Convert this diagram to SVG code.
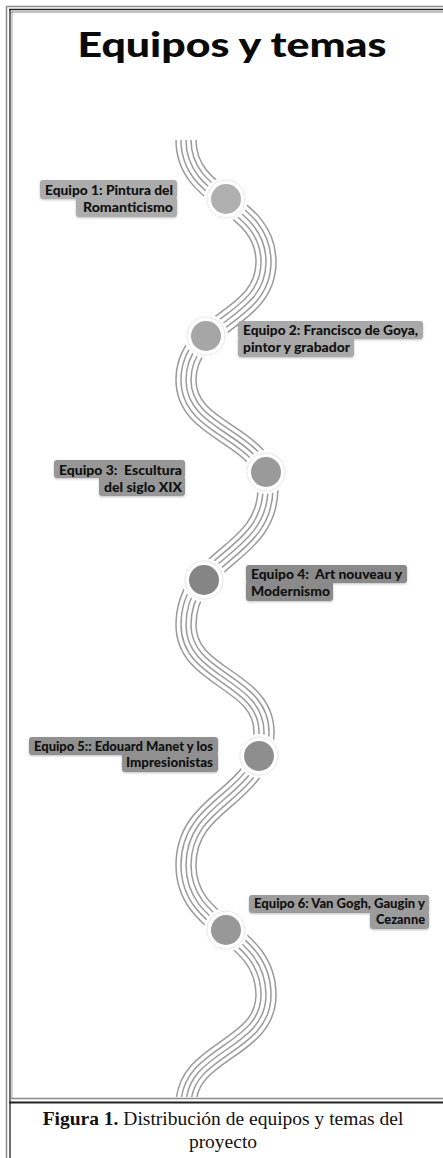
<svg xmlns="http://www.w3.org/2000/svg" xmlns:xlink="http://www.w3.org/1999/xlink" width="443" height="1158" viewBox="0 0 443 1158">
<style>
.lbl{font-family:Lato,"Open Sans",sans-serif;font-weight:900;font-size:12.5px;fill:#111;white-space:pre}
.road{fill:none;stroke-linecap:butt}
.halo{fill:#fff}
.ring{fill:none;stroke:#d6d6d6;stroke-width:1;stroke-dasharray:1.5 1}
.cap{font-family:"Liberation Serif","Times New Roman",serif;font-size:19.5px;fill:#111}
</style>
<defs>
<path id="road" d="M186 140 C186 201 266 201 266 262 C266 321 186 321 186 380 C186 434 268 434 268 488 C268 556.5 186 556.5 186 625 C186 678.5 264 678.5 264 732 C264 798.5 186 798.5 186 865 C186 930 266 930 266 995 C266 1050 186 1050 186 1105"/>
<clipPath id="clipArea"><rect x="0" y="0" width="443" height="1097"/></clipPath>
<filter id="sh" x="-10%" y="-30%" width="120%" height="160%"><feDropShadow dx="0" dy="1" stdDeviation="1.2" flood-color="#000" flood-opacity="0.25"/></filter>
</defs>
<rect x="0" y="0" width="443" height="1158" fill="#fff"/>
<g id="frame" fill="none">
<line x1="6" y1="6.5" x2="443" y2="6.5" stroke="#8a8a8a" stroke-width="1.5"/>
<line x1="9" y1="9.5" x2="443" y2="9.5" stroke="#222" stroke-width="1.5"/>
<line x1="11" y1="12" x2="443" y2="12" stroke="#666" stroke-width="0.8"/>
<line x1="6.5" y1="6" x2="6.5" y2="1158" stroke="#8a8a8a" stroke-width="1.5"/>
<line x1="10" y1="9" x2="10" y2="1158" stroke="#222" stroke-width="1.3"/>
<line x1="12" y1="11.5" x2="12" y2="1098" stroke="#888" stroke-width="0.8"/>
<line x1="10" y1="1098.5" x2="443" y2="1098.5" stroke="#8a8a8a" stroke-width="1.5"/>
<line x1="9" y1="1102.5" x2="443" y2="1102.5" stroke="#222" stroke-width="2"/>
</g>
<text id="title" x="232" y="57" text-anchor="middle" textLength="309" lengthAdjust="spacingAndGlyphs" style="font-family:Lato,'Open Sans',sans-serif;font-weight:900;font-size:35px;fill:#0a0a0a">Equipos y temas</text>
<g id="connectors" clip-path="url(#clipArea)">
<use xlink:href="#road" class="road" stroke="#9a9a9a" stroke-width="21.5"/>
<use xlink:href="#road" class="road" stroke="#fff" stroke-width="18.5"/>
<use xlink:href="#road" class="road" stroke="#9a9a9a" stroke-width="11.5"/>
<use xlink:href="#road" class="road" stroke="#fff" stroke-width="8.5"/>
<use xlink:href="#road" class="road" stroke="#9a9a9a" stroke-width="1.5"/>
</g>
<g id="node1">
<circle class="halo" cx="226" cy="199" r="22"/>
<circle class="ring" cx="226" cy="199" r="19"/>
<circle cx="226" cy="199" r="15" fill="#b0b0b0"/>
<g filter="url(#sh)" fill="#acacac"><rect x="40" y="180" width="137" height="19" rx="3"/><rect x="76" y="197" width="101" height="20" rx="3"/></g>
<text class="lbl" x="173" y="195" text-anchor="end" textLength="128" lengthAdjust="spacingAndGlyphs">Equipo 1: Pintura del</text>
<text class="lbl" x="173" y="212" text-anchor="end" textLength="90" lengthAdjust="spacingAndGlyphs">Romanticismo</text>
</g>
<g id="node2">
<circle class="halo" cx="206" cy="336" r="22"/>
<circle class="ring" cx="206" cy="336" r="19"/>
<circle cx="206" cy="336" r="15" fill="#a6a6a6"/>
<g filter="url(#sh)" fill="#a9a9a9"><rect x="238" y="321" width="185" height="18" rx="3"/><rect x="238" y="337" width="116" height="20" rx="3"/></g>
<text class="lbl" x="243" y="335" textLength="175" lengthAdjust="spacingAndGlyphs">Equipo 2: Francisco de Goya,</text>
<text class="lbl" x="243" y="352" textLength="107" lengthAdjust="spacingAndGlyphs">pintor y grabador</text>
</g>
<g id="node3">
<circle class="halo" cx="266" cy="472" r="22"/>
<circle class="ring" cx="266" cy="472" r="19"/>
<circle cx="266" cy="472" r="15" fill="#9a9a9a"/>
<g filter="url(#sh)" fill="#979797"><rect x="54" y="460" width="131" height="18" rx="3"/><rect x="99" y="476" width="86" height="20" rx="3"/></g>
<text class="lbl" x="182" y="475" text-anchor="end" textLength="123" lengthAdjust="spacingAndGlyphs">Equipo 3:  Escultura</text>
<text class="lbl" x="182" y="492" text-anchor="end" textLength="78" lengthAdjust="spacingAndGlyphs">del siglo XIX</text>
</g>
<g id="node4">
<circle class="halo" cx="204" cy="580" r="22"/>
<circle class="ring" cx="204" cy="580" r="19"/>
<circle cx="204" cy="580" r="15" fill="#858585"/>
<g filter="url(#sh)" fill="#8a8a8a"><rect x="246" y="565" width="161" height="18" rx="3"/><rect x="246" y="581" width="87" height="20" rx="3"/></g>
<text class="lbl" x="251" y="579" textLength="151" lengthAdjust="spacingAndGlyphs">Equipo 4:  Art nouveau y</text>
<text class="lbl" x="251" y="596" textLength="79" lengthAdjust="spacingAndGlyphs">Modernismo</text>
</g>
<g id="node5">
<circle class="halo" cx="259" cy="756" r="22"/>
<circle class="ring" cx="259" cy="756" r="19"/>
<circle cx="259" cy="756" r="15" fill="#8e8e8e"/>
<g filter="url(#sh)" fill="#909090"><rect x="29" y="737" width="189" height="18" rx="3"/><rect x="122" y="753" width="96" height="19" rx="3"/></g>
<text class="lbl" x="213" y="751" text-anchor="end" textLength="179" lengthAdjust="spacingAndGlyphs">Equipo 5:: Edouard Manet y los</text>
<text class="lbl" x="213" y="767" text-anchor="end" textLength="87" lengthAdjust="spacingAndGlyphs">Impresionistas</text>
</g>
<g id="node6">
<circle class="halo" cx="226" cy="930" r="22"/>
<circle class="ring" cx="226" cy="930" r="19"/>
<circle cx="226" cy="930" r="15" fill="#989898"/>
<g filter="url(#sh)" fill="#9c9c9c"><rect x="249" y="895" width="180" height="18" rx="3"/><rect x="370" y="911" width="59" height="18" rx="3"/></g>
<text class="lbl" x="425" y="908" text-anchor="end" textLength="171" lengthAdjust="spacingAndGlyphs">Equipo 6: Van Gogh, Gaugin y</text>
<text class="lbl" x="425" y="924" text-anchor="end" textLength="49" lengthAdjust="spacingAndGlyphs">Cezanne</text>
</g>
<g id="caption">
<text class="cap" x="223" y="1125" text-anchor="middle"><tspan font-weight="700">Figura 1.</tspan> Distribución de equipos y temas del</text>
<text class="cap" x="223" y="1148" text-anchor="middle">proyecto</text>
</g>
</svg>
